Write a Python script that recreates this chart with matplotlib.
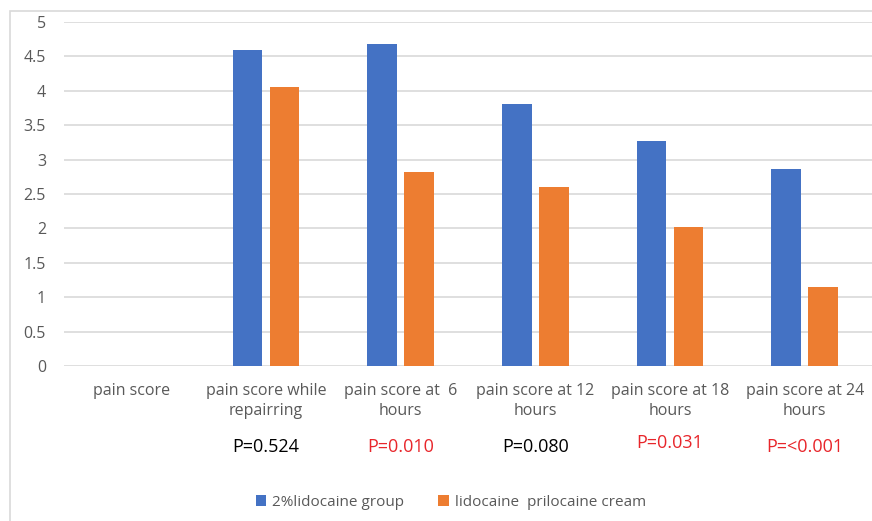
import numpy as np
import matplotlib.pyplot as plt
from matplotlib.patches import Rectangle

plt.rcParams['font.family'] = ['Open Sans', 'DejaVu Sans']

categories = ['pain score', 'pain score while\nrepairring', 'pain score at  6\nhours',
              'pain score at 12\nhours', 'pain score at 18\nhours', 'pain score at 24\nhours']
lido = [0, 4.59, 4.68, 3.81, 3.27, 2.86]
emla = [0, 4.05, 2.82, 2.60, 2.02, 1.15]
p_labels = ['', 'P=0.524', 'P=0.010', 'P=0.080', 'P=0.031', 'P=<0.001']
p_colors = ['black', 'black', '#e8262b', 'black', '#e8262b', '#e8262b']

blue = '#4472c4'
orange = '#ed7d31'
gray = '#595959'

fig = plt.figure(figsize=(8.72, 5.21), dpi=100)
ax = fig.add_axes([0.0734, 0.2975, 0.9266, 0.6603])

# light frame around the chart area
fig.patches.append(Rectangle((10 / 872, -0.1), 1.2, 1 - 11 / 521 + 0.1,
                             transform=fig.transFigure, fill=False,
                             edgecolor='#d9d9d9', linewidth=1.2))

x = np.arange(len(categories))
w = 0.22
ax.bar(x - 0.137, lido, w, color=blue, label='2%lidocaine group', zorder=3)
ax.bar(x + 0.137, emla, w, color=orange, label='lidocaine  prilocaine cream', zorder=3)

ax.set_xlim(-0.5, len(categories) - 0.5)
ax.set_ylim(0, 5)
ax.set_yticks(np.arange(0, 5.01, 0.5))
ax.set_yticklabels(['0', '0.5', '1', '1.5', '2', '2.5', '3', '3.5', '4', '4.5', '5'])
ax.set_xticks(x)
ax.set_xticklabels(categories, linespacing=1.35)
ax.tick_params(axis='both', length=0, colors=gray, labelsize=11.5)
ax.tick_params(axis='x', pad=12)
ax.tick_params(axis='y', pad=13)
ax.grid(axis='y', color='#d9d9d9', linewidth=1.2, zorder=0)
for s in ax.spines.values():
    s.set_visible(False)

# p-values under each time point
for i, (txt, c) in enumerate(zip(p_labels, p_colors)):
    dy = 4 if txt == 'P=0.031' else 0
    ax.annotate(txt, (x[i], 0), xycoords=('data', 'axes fraction'),
                xytext=(0, -81 + dy), textcoords='offset pixels',
                ha='center', va='center', fontsize=13, color=c)

leg = fig.legend(loc='center', bbox_to_anchor=(0.517, 1 - 502 / 521), ncol=2,
                 frameon=False, fontsize=11, handlelength=0.7, handleheight=0.7,
                 handletextpad=0.4, columnspacing=2.2)
for t in leg.get_texts():
    t.set_color(gray)

fig.savefig('out.png', dpi=100)
